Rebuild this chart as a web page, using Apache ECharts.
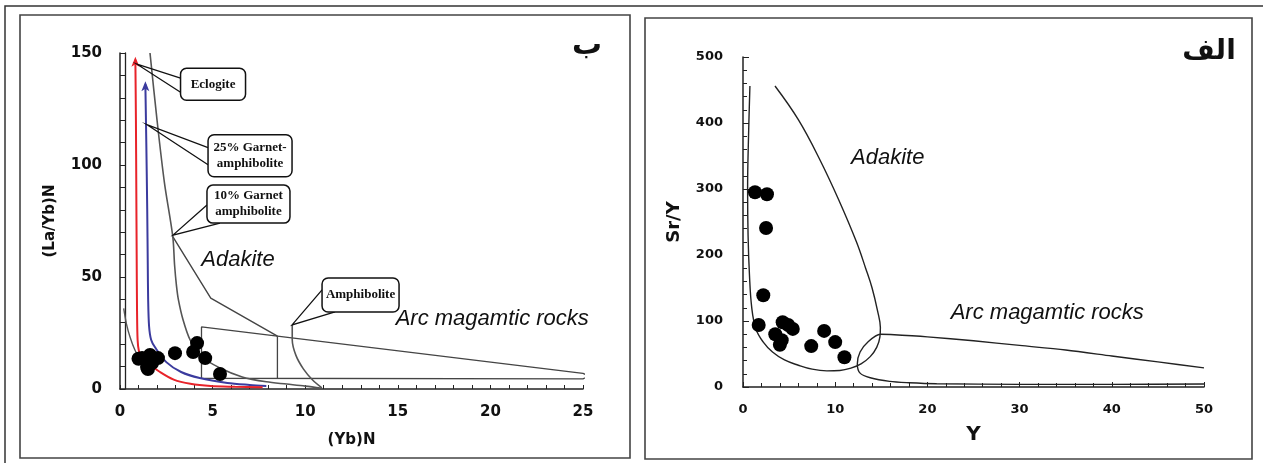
<!DOCTYPE html>
<html><head><meta charset="utf-8">
<script src="https://cdn.jsdelivr.net/npm/echarts@6/dist/echarts.min.js"></script>
<style>html,body{margin:0;padding:0;background:#fff}#c{width:1263px;height:463px}</style>
</head><body><div id="c"></div>
<script>
// ---------- DATA ----------
// Panel "ب": (La/Yb)N vs (Yb)N
const axisB_x = [0, 25, 5];
const axisB_y = [0, 150, 50];
const eclogiteCurve = [[0.83,147],[0.86,120],[0.88,90],[0.9,60],[0.92,35],[0.95,22],[1.02,17],[1.15,14.5],[1.5,11.5],[2.16,7.6],[2.9,4.2],[3.8,2.3],[4.9,1.3],[6.2,1.0],[7.7,0.8]];
const garnet25Curve = [[1.37,136],[1.42,110],[1.47,80],[1.5,55],[1.52,40],[1.57,28],[1.68,22],[1.9,18.5],[2.5,12],[3.3,7.6],[4.3,4.9],[5.8,2.7],[7.0,1.8],[7.9,1.3]];
const garnet10Curve = [[1.62,150],[2.0,120],[2.4,92],[2.85,68],[2.95,55],[3.05,46],[3.15,40],[3.4,31],[3.78,22],[4.4,14.4],[5.4,9.4],[6.6,5.4],[7.9,3.2],[9.0,2.2],[10.0,1.3],[10.9,0.3]];
const amphiboliteCurve = [[9.3,28.6],[9.3,22],[9.5,15],[9.9,9],[10.4,4],[10.9,0.5]];
const baseCurveB = [[0.2,36],[0.35,29],[0.55,23],[0.8,17.5],[1.05,14]];
const adakiteLineB = [[2.85,68],[4.9,40.6],[8.5,23.6]];
const arcFieldB = [[4.4,4.8],[4.4,27.7],[8.5,23.6],[25,7],[25.3,5.8],[25,4.5],[4.4,4.8]];
const arcDividerB = [[8.5,4.8],[8.5,23.6]];
const samplesB = [[1.0,13.5],[1.19,13.8],[1.62,15.2],[2.05,13.8],[1.46,9.8],[1.73,11.6],[1.51,8.9],[2.97,16],[4.16,20.5],[3.95,16.5],[4.6,13.8],[5.4,6.7]];
const calloutNamesB = ['Eclogite','25% Garnet-\namphibolite','10% Garnet\namphibolite','Amphibolite'];
const calloutAnchorsB = [[0.92,145],[1.46,118],[2.86,68.7],[9.29,28.6]];
const fieldNamesB = ['Adakite','Arc magamtic rocks'];
const fieldLabelPosB = [[6.37,57.6],[20.1,31.3]];

// Panel "الف": Sr/Y vs Y
const axisA_x = [0, 50, 10];
const axisA_y = [0, 500, 100];
const adakiteFieldA = [[0.75,456],[0.6,380],[0.5,300],[0.55,230],[0.7,170],[0.95,120],[1.4,88],[2.2,68],[3.2,53],[4.5,41],[6.0,33],[7.5,27],[9.1,24.5],[10.5,25],[11.7,28.5],[12.8,35],[13.8,46],[14.5,60],[14.85,76],[14.9,90],[14.6,115],[14.0,150],[13.3,180],[12.3,220],[10.4,283],[8.35,344],[6.0,405],[3.47,456]];
const arcFieldA = [[50,29],[45,38],[40,47],[35,56],[30,63],[25,70],[20,76],[16,79.5],[14.9,80],[13.6,69],[12.7,53],[12.4,35],[12.7,21],[13.8,14],[15.9,8.5],[18,6.5],[21,5],[30,4],[40,4],[50,4.5]];
const samplesA = [[1.3,295],[2.6,292],[2.5,241],[2.2,139],[1.7,94],[4.3,98],[3.5,80],[4.9,94],[5.4,88],[4.0,64],[4.2,71],[7.4,62],[8.8,85],[10.0,68],[11.0,45]];
const fieldNamesA = ['Adakite','Arc magamtic rocks'];
const fieldLabelPosA = [[15.7,347],[33,112]];

// ---------- STYLE ----------
const calloutStyle = [
  {dx:76, dy:20, w:65, h:32, b1:[-32.5,-6], b2:[-32.5,8]},
  {dx:103, dy:31, w:84, h:42, b1:[-42,-8], b2:[-42,9]},
  {dx:75.5, dy:-31, w:83, h:38, b1:[-41.5,1], b2:[-28.5,19]},
  {dx:68.5, dy:-30, w:77, h:34, b1:[-38.5,-5], b2:[-25.5,17]}
];
const AX = '#222';
const tickFont = {fontFamily:'DejaVu Sans', fontWeight:'bold', color:'#111'};

function lineS(data, xi, yi, color, width, smooth){
  return {type:'line', xAxisIndex:xi, yAxisIndex:yi, data:data, symbol:'none', smooth:smooth||0,
    lineStyle:{color:color, width:width||1.4}, silent:true, z:2};
}
function labelS(names, pos, xi, yi){
  return {type:'scatter', xAxisIndex:xi, yAxisIndex:yi, symbolSize:1, itemStyle:{color:'rgba(0,0,0,0)', opacity:1},
    data:names.map((n,i)=>({name:n, value:pos[i]})), z:5, silent:true,
    label:{show:true, position:'inside', formatter:'{b}', fontFamily:'Liberation Sans', fontStyle:'italic', fontSize:22,
      color:'#111', opacity:1, textBorderWidth:0}};
}

const chart = echarts.init(document.getElementById('c'), null, {renderer:'canvas'});
chart.setOption({
  backgroundColor:'#fff',
  animation:false,
  grid:[
    {left:120, top:53, width:463, height:336},
    {left:743, top:57, width:461, height:330}
  ],
  xAxis:[
    {gridIndex:0, type:'value', min:axisB_x[0], max:axisB_x[1], interval:axisB_x[2],
     axisLine:{lineStyle:{color:AX, width:1.5}}, axisTick:{inside:true, length:4, lineStyle:{color:AX}},
     minorTick:{show:true, splitNumber:5, length:4, lineStyle:{color:AX}},
     splitLine:{show:false}, axisLabel:Object.assign({fontSize:15, margin:16}, tickFont),
     name:'(Yb)N', nameLocation:'middle', nameGap:44, nameTextStyle:Object.assign({fontSize:15}, tickFont)},
    {gridIndex:1, type:'value', min:axisA_x[0], max:axisA_x[1], interval:axisA_x[2],
     axisLine:{lineStyle:{color:AX, width:1.5}}, axisTick:{inside:true, length:5, lineStyle:{color:AX}},
     minorTick:{show:true, splitNumber:5, length:4, lineStyle:{color:AX}},
     splitLine:{show:false}, axisLabel:Object.assign({fontSize:13, margin:16}, tickFont),
     name:'Y', nameLocation:'middle', nameGap:38, nameTextStyle:Object.assign({fontSize:20}, tickFont)}
  ],
  yAxis:[
    {gridIndex:0, type:'value', min:axisB_y[0], max:axisB_y[1], interval:axisB_y[2],
     axisLine:{show:true, lineStyle:{color:AX, width:1.5}}, axisTick:{show:true, inside:true, length:5, lineStyle:{color:AX}},
     minorTick:{show:true, splitNumber:5, length:5, lineStyle:{color:AX}},
     splitLine:{show:false}, axisLabel:Object.assign({fontSize:15, margin:18}, tickFont),
     name:'(La/Yb)N', nameLocation:'middle', nameGap:62, nameRotate:90, nameTextStyle:Object.assign({fontSize:15}, tickFont)},
    {gridIndex:0, type:'value', position:'left', offset:-5, min:axisB_y[0], max:axisB_y[1],
     axisLine:{show:true, lineStyle:{color:AX, width:1.3}}, axisTick:{show:false}, axisLabel:{show:false}, splitLine:{show:false}},
    {gridIndex:1, type:'value', min:axisA_y[0], max:axisA_y[1], interval:axisA_y[2],
     axisLine:{show:true, lineStyle:{color:AX, width:1.5}}, axisTick:{show:true, inside:true, length:6, lineStyle:{color:AX}},
     minorTick:{show:true, splitNumber:5, length:4, lineStyle:{color:AX}},
     splitLine:{show:false}, axisLabel:Object.assign({fontSize:13, margin:20}, tickFont),
     name:'Sr/Y', nameLocation:'middle', nameGap:60, nameRotate:90, nameTextStyle:Object.assign({fontSize:18}, tickFont)}
  ],
  graphic:[
    {type:'rect', shape:{x:5, y:6, width:1300, height:520}, style:{fill:'none', stroke:'#333', lineWidth:1.5}, z:-1},
    {type:'rect', shape:{x:20, y:15, width:610, height:443}, style:{fill:'none', stroke:'#444', lineWidth:1.6}, z:-1},
    {type:'rect', shape:{x:645, y:18, width:607, height:441}, style:{fill:'none', stroke:'#444', lineWidth:1.6}, z:-1},
    {type:'text', x:587, y:46, style:{text:'ب', font:'bold 30px "DejaVu Sans"', fill:'#111', textAlign:'center', textVerticalAlign:'middle'}},
    {type:'text', x:1209, y:52, style:{text:'الف', font:'bold 28px "DejaVu Sans"', fill:'#111', textAlign:'center', textVerticalAlign:'middle'}}
  ],
  series:[
    lineS(arcFieldB, 0, 0, '#444', 1.3, 0),
    lineS(arcDividerB, 0, 0, '#444', 1.3, 0),
    lineS(adakiteLineB, 0, 0, '#444', 1.4, 0),
    lineS(baseCurveB, 0, 0, '#555', 1.4, 0.3),
    lineS(garnet10Curve, 0, 0, '#555', 1.6, 0.3),
    lineS(amphiboliteCurve, 0, 0, '#555', 1.6, 0.3),
    lineS(garnet25Curve, 0, 0, '#3b3b9e', 2, 0.3),
    lineS(eclogiteCurve, 0, 0, '#e8232a', 2, 0.3),
    {type:'scatter', xAxisIndex:0, yAxisIndex:0, symbol:'arrow', symbolSize:[6,10], symbolOffset:[0,-3], z:3, silent:true,
     data:[{value:eclogiteCurve[0], itemStyle:{color:'#e8232a', opacity:1}},{value:garnet25Curve[0], itemStyle:{color:'#3b3b9e', opacity:1}}]},
    {type:'scatter', xAxisIndex:0, yAxisIndex:0, symbol:'circle', symbolSize:14, itemStyle:{color:'#000', opacity:1}, data:samplesB, z:4, silent:true},
    labelS(fieldNamesB, fieldLabelPosB, 0, 0),
    {type:'custom', xAxisIndex:0, yAxisIndex:0, z:6, silent:true,
     data:calloutAnchorsB,
     renderItem:function(params, api){
       const i = params.dataIndex, s = calloutStyle[i];
       const a = api.coord([api.value(0), api.value(1)]);
       const c = [a[0]+s.dx, a[1]+s.dy];
       return {type:'group', children:[
         {type:'polyline', shape:{points:[[c[0]+s.b1[0], c[1]+s.b1[1]], a, [c[0]+s.b2[0], c[1]+s.b2[1]]]},
          style:{fill:'none', stroke:'#111', lineWidth:1.3}},
         {type:'rect', shape:{x:c[0]-s.w/2, y:c[1]-s.h/2, width:s.w, height:s.h, r:6},
          style:{fill:'#fff', stroke:'#111', lineWidth:1.5}},
         {type:'text', style:{text:calloutNamesB[i], x:c[0], y:c[1], textAlign:'center', textVerticalAlign:'middle',
          align:'center', verticalAlign:'middle', fontFamily:'Liberation Serif', fontWeight:'bold', fontSize:13, lineHeight:16, fill:'#111'}}
       ]};
     }},
    lineS(adakiteFieldA, 1, 2, '#222', 1.4, 0.4),
    lineS(arcFieldA, 1, 2, '#222', 1.4, 0.3),
    {type:'scatter', xAxisIndex:1, yAxisIndex:2, symbol:'circle', symbolSize:14, itemStyle:{color:'#000', opacity:1}, data:samplesA, z:4, silent:true},
    labelS(fieldNamesA, fieldLabelPosA, 1, 2)
  ]
});
</script></body></html>
